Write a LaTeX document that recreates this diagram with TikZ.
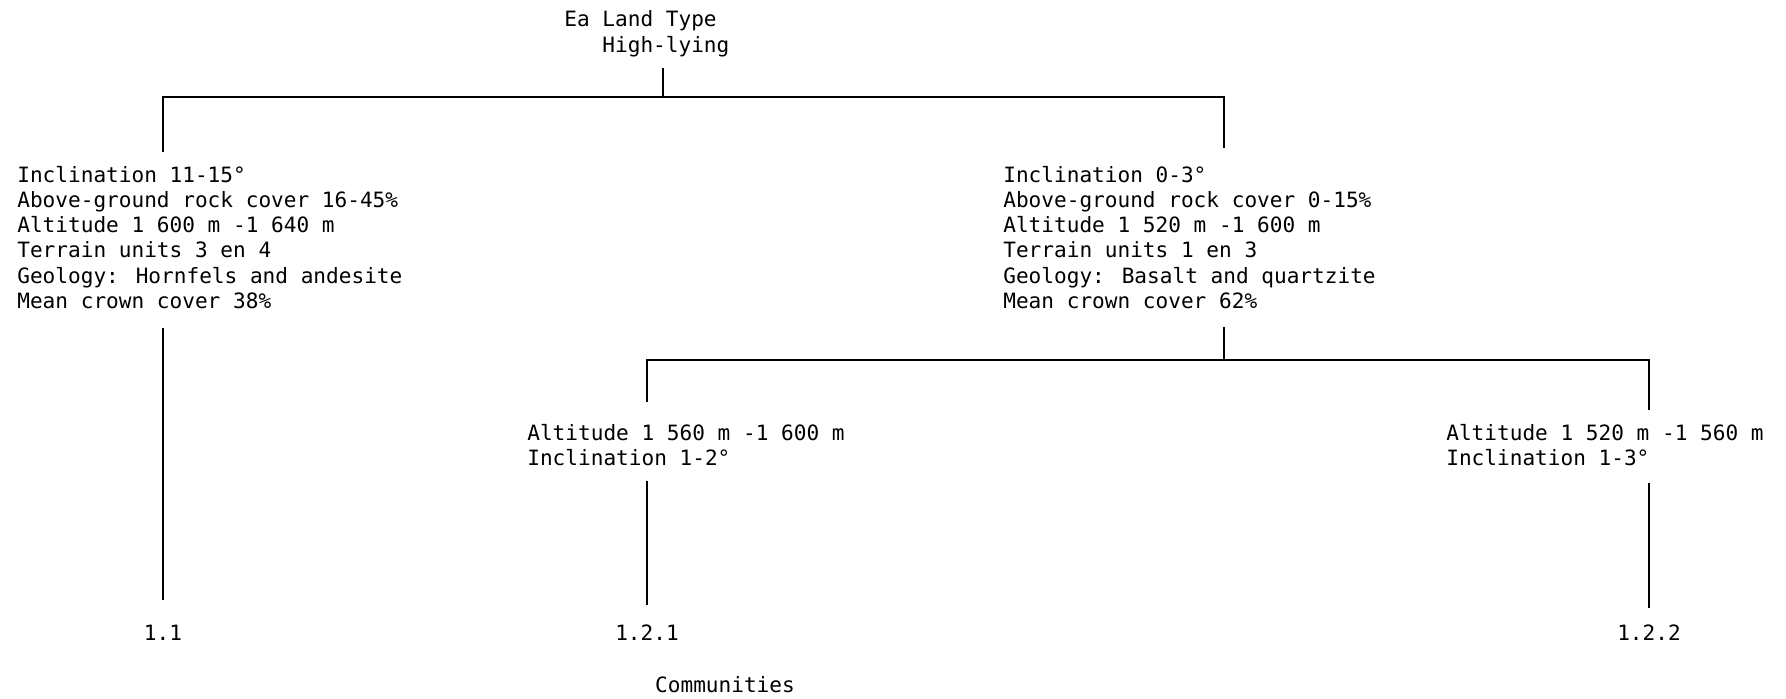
\documentclass[tikz,border=0pt]{standalone}
\usepackage{fontspec}
\newfontfamily\typewfont[WordSpace={1,0,0}]{DejaVu Sans Mono}

\begin{document}
\begin{tikzpicture}[x=0.02cm,y=-0.02cm,
		txt/.style={font=\typewfont\fontsize{12}{14.4}\selectfont, inner sep=0pt, align=left, anchor=north west},
		num/.style={font=\typewfont\fontsize{12}{14.4}\selectfont, inner sep=0pt, anchor=base},
		branch/.style={line width=1.1pt}]
		\useasboundingbox (0,0) rectangle (1786,698);

		% land type and its two branches
		\node[txt] (root) at (564,10.6) {Ea Land Type\\\hspace*{1.806em}High-lying};
		\node[txt] (hills) at (17,165.6) {Inclination 11-15°\\Above-ground rock cover 16-45\%\\Altitude 1 600 m -1 640 m\\Terrain units 3 en 4\\Geology: Hornfels and andesite\\Mean crown cover 38\%};
		\node[txt] (flats) at (1003,165.6) {Inclination 0-3°\\Above-ground rock cover 0-15\%\\Altitude 1 520 m -1 600 m\\Terrain units 1 en 3\\Geology: Basalt and quartzite\\Mean crown cover 62\%};
		\node[txt] (upper) at (527,423.6) {Altitude 1 560 m -1 600 m\\Inclination 1-2°};
		\node[txt] (lower) at (1446,423.6) {Altitude 1 520 m -1 560 m\\Inclination 1-3°};

		\node[num] (c11) at (163,640.7) {1.1};
		\node[num] (c121) at (647,640.7) {1.2.1};
		\node[num] (c122) at (1649,640.7) {1.2.2};
		\node[num] (comm) at (725,692.7) {Communities};

		% line ends
		\coordinate (t0) at (663,68);
		\coordinate (j0) at (663,97);
		\coordinate (e1) at (163,152);
		\coordinate (e2) at (1224,148);
		\coordinate (a1) at (163,328);
		\coordinate (b1) at (163,600);
		\coordinate (t1) at (1224,327);
		\coordinate (j1) at (1224,360);
		\coordinate (e3) at (647,402);
		\coordinate (e4) at (1649,410);
		\coordinate (a2) at (647,481);
		\coordinate (b2) at (647,605);
		\coordinate (a3) at (1649,483);
		\coordinate (b3) at (1649,608);

		\draw[branch] (t0) -- (j0);
		\draw[branch] (e1) |- (j0) -| (e2);
		\draw[branch] (a1) -- (b1);
		\draw[branch] (t1) -- (j1);
		\draw[branch] (e3) |- (j1) -| (e4);
		\draw[branch] (a2) -- (b2);
		\draw[branch] (a3) -- (b3);

\end{tikzpicture}
\end{document}
